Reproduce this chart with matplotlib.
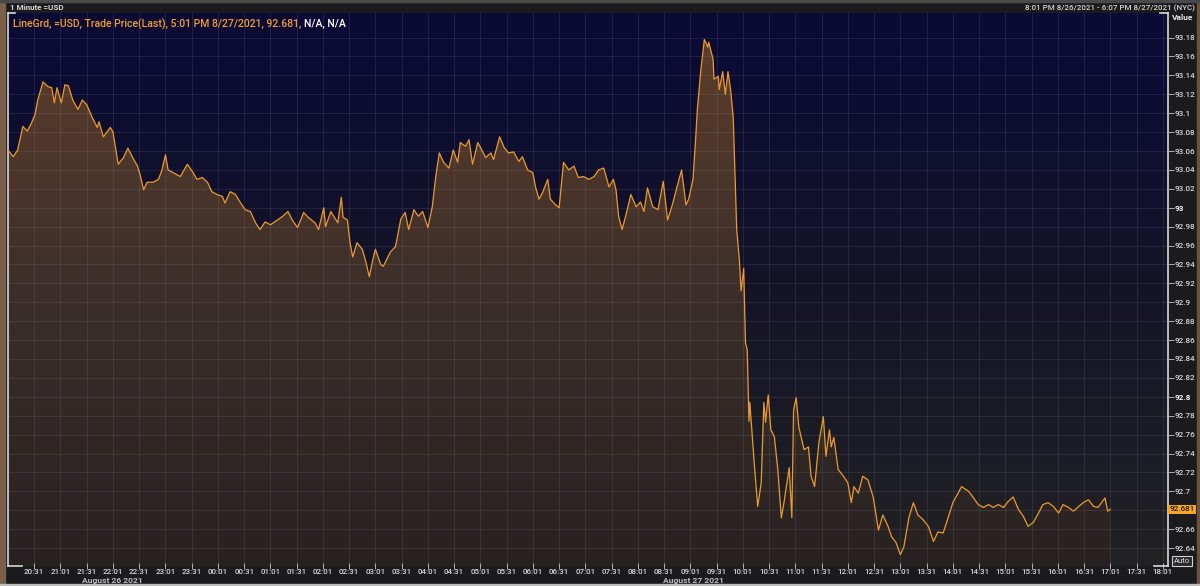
import numpy as np
import matplotlib.pyplot as plt
from matplotlib.colors import LinearSegmentedColormap
from matplotlib.patches import Rectangle

plt.rcParams['font.family'] = ['Roboto', 'DejaVu Sans']

# minutes after 20:01 on 8/26/2021, and the traded price
minutes = [0, 6, 11, 17, 22, 27, 31, 34, 40, 46, 50, 53, 56, 61, 65, 69, 74, 80, 85, 90,
           96, 102, 104, 109, 117, 120, 126, 132, 137, 142, 148, 151, 155, 159, 166, 172, 176, 180, 183, 189,
           197, 205, 211, 216, 222, 228, 233, 239, 245, 248, 254, 260, 266, 271, 277, 283, 288, 294, 300, 308,
           314, 320, 325, 331, 338, 343, 351, 355, 361, 363, 369, 377, 381, 383, 388, 391, 394, 399, 405, 409,
           413, 417, 420, 426, 429, 437, 443, 449, 454, 458, 464, 469, 474, 480, 485, 489, 493, 498, 504, 509,
           514, 517, 523, 527, 531, 537, 540, 546, 552, 555, 562, 567, 572, 578, 584, 588, 594, 600, 603, 607,
           611, 617, 620, 626, 630, 635, 641, 647, 652, 658, 664, 670, 675, 681, 687, 692, 695, 698, 702, 706,
           712, 718, 723, 727, 731, 737, 743, 749, 754, 760, 763, 770, 775, 778, 783, 786, 788, 792, 796, 800,
           801, 806, 807, 812, 813, 817, 820, 823, 826, 829, 833, 836, 838, 841, 843, 845, 847, 848, 853, 857,
           861, 864, 866, 869, 872, 876, 880, 884, 887, 893, 896, 898, 901, 904, 910, 915, 918, 922, 927, 932,
           935, 939, 941, 944, 949, 955, 960, 964, 967, 972, 977, 983, 989, 995, 1000, 1006, 1010, 1015, 1020, 1024,
           1030, 1035, 1040, 1046, 1052, 1058, 1063, 1069, 1075, 1080, 1086, 1090, 1098, 1103, 1109, 1115, 1121, 1126, 1132, 1138,
           1143, 1149, 1155, 1161, 1166, 1172, 1178, 1183, 1189, 1195, 1201, 1206, 1212, 1218, 1224, 1229, 1235, 1241, 1246, 1250,
           1254, 1257, 1260]
price = [93.061, 93.054, 93.061, 93.086, 93.081, 93.090, 93.099, 93.114, 93.133, 93.128, 93.127, 93.111, 93.127, 93.111, 93.130, 93.129, 93.114, 93.104, 93.114, 93.109,
         93.096, 93.085, 93.091, 93.075, 93.085, 93.080, 93.046, 93.053, 93.063, 93.054, 93.044, 93.035, 93.019, 93.027, 93.027, 93.030, 93.040, 93.056, 93.040, 93.037,
         93.033, 93.046, 93.038, 93.030, 93.032, 93.027, 93.017, 93.014, 93.012, 93.005, 93.017, 93.014, 93.005, 92.998, 92.996, 92.984, 92.977, 92.985, 92.982, 92.987,
         92.991, 92.996, 92.987, 92.979, 92.995, 92.990, 92.984, 92.977, 93.000, 92.980, 92.996, 92.984, 93.011, 92.990, 92.987, 92.963, 92.948, 92.963, 92.956, 92.943,
         92.927, 92.945, 92.956, 92.940, 92.938, 92.953, 92.959, 92.988, 92.995, 92.977, 92.998, 92.991, 92.996, 92.979, 93.001, 93.033, 93.058, 93.048, 93.042, 93.061,
         93.048, 93.069, 93.065, 93.072, 93.046, 93.069, 93.064, 93.053, 93.058, 93.051, 93.075, 93.064, 93.058, 93.059, 93.049, 93.054, 93.040, 93.037, 93.022, 93.009,
         93.016, 93.030, 93.009, 93.003, 93.000, 93.048, 93.040, 93.044, 93.032, 93.033, 93.030, 93.033, 93.040, 93.042, 93.022, 93.030, 93.019, 92.991, 92.977, 92.991,
         93.014, 93.001, 93.006, 92.996, 93.021, 93.001, 92.998, 93.028, 92.987, 93.005, 93.016, 93.040, 93.003, 93.009, 93.030, 93.072, 93.104, 93.146, 93.178, 93.170,
         93.175, 93.157, 93.136, 93.139, 93.125, 93.144, 93.120, 93.144, 93.125, 93.096, 92.977, 92.945, 92.912, 92.936, 92.857, 92.850, 92.774, 92.794, 92.730, 92.684,
         92.709, 92.794, 92.773, 92.802, 92.765, 92.758, 92.723, 92.672, 92.688, 92.725, 92.672, 92.786, 92.799, 92.768, 92.744, 92.747, 92.716, 92.705, 92.752, 92.779,
         92.737, 92.765, 92.747, 92.757, 92.723, 92.716, 92.709, 92.688, 92.705, 92.698, 92.716, 92.712, 92.694, 92.659, 92.675, 92.663, 92.652, 92.646, 92.633, 92.641,
         92.673, 92.688, 92.675, 92.670, 92.663, 92.647, 92.657, 92.656, 92.673, 92.688, 92.698, 92.705, 92.700, 92.694, 92.686, 92.683, 92.686, 92.683, 92.686, 92.683,
         92.689, 92.694, 92.681, 92.673, 92.663, 92.667, 92.677, 92.686, 92.688, 92.684, 92.677, 92.686, 92.683, 92.679, 92.684, 92.688, 92.691, 92.684, 92.683, 92.688,
         92.693, 92.679, 92.681]
last_price = 92.681

start_hm = (20, 1)
tick_minutes = list(range(30, 1321, 30))
tick_labels = []
for m in tick_minutes:
    t = (start_hm[0] * 60 + start_hm[1] + m) % 1440
    tick_labels.append('%02d:%02d' % (t // 60, t % 60))

value_ticks = [round(92.64 + 0.02 * i, 2) for i in range(28)]
# 92.68 sits under the last-price tag in the original
value_labels = ['' if abs(v - 92.68) < 1e-6 else '%g' % v for v in value_ticks]

W, H = 1200, 586
fig = plt.figure(figsize=(W / 100, H / 100), dpi=100)
fig.patch.set_facecolor('#1b1b1e')


def fx(px):
    return px / W


def fy(py):
    return 1 - py / H


# outer frame bits
fig.patches.append(Rectangle((0, 0), fx(5), 1, transform=fig.transFigure, color='#7a6048', zorder=0))
fig.patches.append(Rectangle((fx(1197), 0), fx(3), 1, transform=fig.transFigure, color='#6a5240', zorder=0))
fig.patches.append(Rectangle((0, 0), 1, 2 / H, transform=fig.transFigure, color='#bdbdbd', zorder=0))
fig.patches.append(Rectangle((0, fy(2)), 1, 2 / H, transform=fig.transFigure, color='#4a4a4a', zorder=0))

ax = fig.add_axes([fx(8), fy(566), fx(1168) - fx(8), fy(13) - fy(566)])
x0, x1 = 0, 1326
y0, y1 = 92.621, 93.206

grad = np.linspace(0, 1, 256).reshape(-1, 1)
bg_cm = LinearSegmentedColormap.from_list('bg', ['#222223', '#141428', '#0a0a36'])
ax.imshow(grad, extent=[x0, x1, y0, y1], origin='lower', aspect='auto', cmap=bg_cm, zorder=0)

fill_cm = LinearSegmentedColormap.from_list('fill', ['#272221', '#3b2e2a', '#5c3d2b'])
fill = ax.fill_between(minutes, price, y0, facecolor='none', edgecolor='none')
im = ax.imshow(grad, extent=[x0, x1, y0, 93.18], origin='lower', aspect='auto', cmap=fill_cm, zorder=1)
im.set_clip_path(fill.get_paths()[0], transform=ax.transData)

ax.plot(minutes, price, color='#eb9a30', lw=0.9, zorder=3)

ax.set_xlim(x0, x1)
ax.set_ylim(y0, y1)
ax.set_xticks(tick_minutes)
ax.set_xticklabels(tick_labels)
ax.yaxis.tick_right()
ax.set_yticks(value_ticks)
ax.set_yticklabels(value_labels)

ax.set_axisbelow(False)
ax.grid(True, color='#a0a0b8', alpha=0.14, lw=0.7, zorder=2)
ax.tick_params(axis='x', direction='inout', length=4, width=0.7, color='#b0b0b0',
               labelsize=5.8, labelcolor='#d4d4d4', pad=0.5)
ax.tick_params(axis='y', direction='out', length=4, width=0.7, color='#b0b0b0',
               labelsize=5.9, labelcolor='#d4d4d4', pad=1)
for lab in ax.get_xticklabels() + ax.get_yticklabels():
    lab.set_fontweight('medium')
for lab in ax.get_yticklabels():
    if lab.get_text() in ('93', '92.8'):
        lab.set_fontweight('bold')
        lab.set_color('#f4f4f4')

for s in ['top', 'bottom']:
    ax.spines[s].set_visible(False)
for s in ['left', 'right']:
    ax.spines[s].set_color('#d8d8d8')
    ax.spines[s].set_linewidth(1.2)

# corner brackets
for xs, ys in [((0, 0.012), (0, 0)), ((0, 0.006), (1, 1)), ((0.988, 1), (0, 0)), ((0.993, 1), (1, 1))]:
    ax.plot(xs, ys, transform=ax.transAxes, color='#d8d8d8', lw=1.2, clip_on=False, zorder=5)

# last price tag
ax.text(1.0012, last_price, '%.3f' % last_price, transform=ax.get_yaxis_transform(),
        ha='left', va='center', fontsize=5.9, color='#2a1a00', weight='medium', zorder=6,
        bbox=dict(boxstyle='square,pad=0.2', fc='#f5a623', ec='none'))

# header texts
fig.text(fx(10), fy(7), '1 Minute =USD', fontsize=5.8, color='#d8d8d8', weight='bold', va='center')
fig.text(fx(1195), fy(8), '8:01 PM 8/26/2021 - 6:07 PM 8/27/2021 (NYC)', fontsize=5.8,
         color='#d4d4d4', ha='right', va='center', weight='medium')
fig.text(fx(1172), fy(18), 'Value', fontsize=6, color='#e8e8e8', weight='bold', va='center')

t1 = fig.text(fx(13), fy(24), 'LineGrd, =USD, Trade Price(Last), 5:01 PM 8/27/2021, 92.681,',
              fontsize=7.6, color='#f0a030', va='center', weight='medium')
fig.canvas.draw()
bb = t1.get_window_extent()
fig.text(fx(bb.x1 + 3), fy(24), 'N/A, N/A', fontsize=7.6, color='#ffffff', va='center', weight='medium')

fig.text(fx(112), fy(580), 'August 26 2021', fontsize=6.1, color='#bcbcbc', weight='bold',
         ha='center', va='center')
fig.text(fx(693), fy(580), 'August 27 2021', fontsize=6.1, color='#bcbcbc', weight='bold',
         ha='center', va='center')
fig.text(fx(1182), fy(561), 'Auto', fontsize=5.6, color='#e0e0e0', ha='center', va='center',
         bbox=dict(boxstyle='square,pad=0.2', fc='#2a2a2a', ec='#d0d0d0', lw=0.8))

fig.savefig('out.png', dpi=100, facecolor=fig.get_facecolor())
